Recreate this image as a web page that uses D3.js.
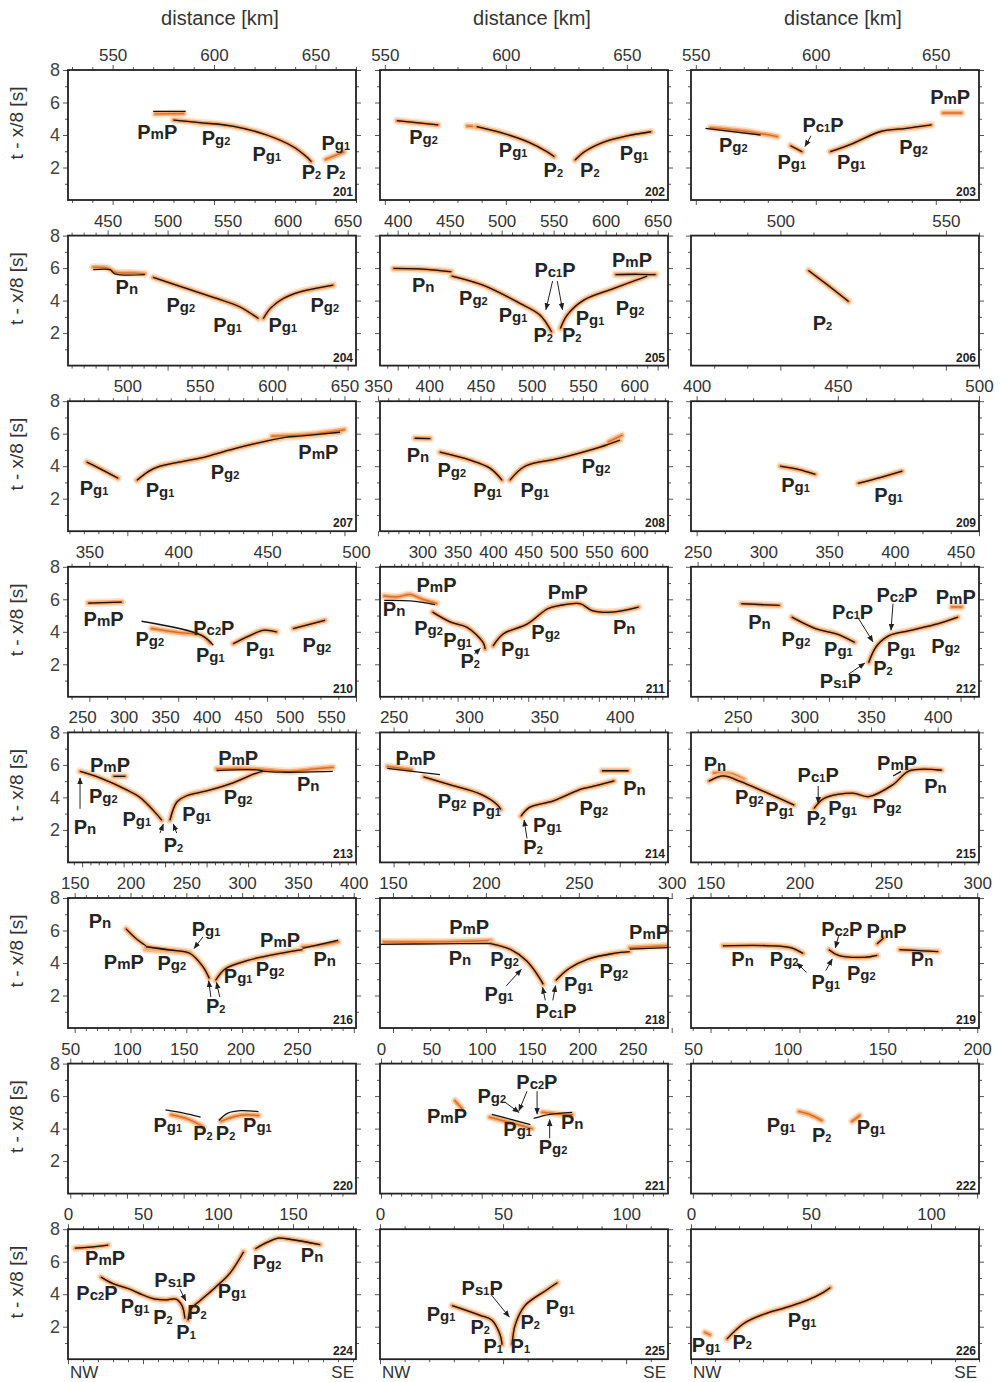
<!DOCTYPE html>
<html><head><meta charset="utf-8">
<script src="https://cdn.jsdelivr.net/npm/d3@7"></script>
<style>body{margin:0;background:#fff}svg{display:block}</style>
</head><body><svg id="c" width="1000" height="1382"></svg>
<script>
// ---------- panel meta ----------
const panelIds = ["201","202","203","204","205","206","207","208","209","210","211","212","213","214","215","216","218","219","220","221","222","224","225","226"];
const xDomains = [[528,670],[548,667],[548,668],[417,657],[383,660],[473,560],[459,658],[352,633],[398,500],[338,500],[240,648],[245,464],[233,580],[241,432],[215,431],[144,402],[143,298],[139,301],[48,302],[-1,285],[49,201],[0,192],[0,117],[0,120]];
const xTickLabels = [[550,600,650],[550,600,650],[550,600,650],[450,500,550,600,650],[400,450,500,550,600,650],[500,550],[500,550,600,650],[350,400,450,500,550,600],[400,450,500],[350,400,450,500],[300,350,400,450,500,550,600],[250,300,350,400,450],[250,300,350,400,450,500,550],[250,300,350,400],[250,300,350,400],[150,200,250,300,350,400],[150,200,250,300],[150,200,250,300],[50,100,150,200,250],[0,50,100,150,200,250],[50,100,150,200],[0,50,100,150],[0,50,100],[0,50,100]];
const yTickLabels = [2,4,6,8];

// ---------- travel-time picks (o = picks, k = model, b = both) ----------
const seg201 = [["k",[[570,5.45],[586,5.45]]],["o",[[571,5.3],[585,5.33]]],["b",[[580,4.92],[593,4.76],[609,4.55],[626,4.0],[639,3.28],[645.5,2.67],[648,2.36]]],["o",[[655,2.5],[664,2.95]]]];
const seg202 = [["b",[[555,4.88],[572,4.62]]],["o",[[584,4.55],[588,4.51]]],["b",[[588,4.51],[599,4.1],[610,3.52],[617,2.97],[620,2.67]]],["b",[[628.6,2.46],[632.5,2.97],[641,3.59],[650,3.94],[660,4.2]]]];
const seg203 = [["k",[[554,4.41],[577,4.0]]],["o",[[556,4.45],[570,4.25],[584,3.9]]],["b",[[589.5,3.34],[594.3,2.97]]],["b",[[606,2.97],[615.6,3.49],[626.7,4.2],[637.8,4.41],[648.2,4.62]]],["o",[[653,5.35],[660.7,5.35]]]];
const seg204 = [["k",[[438,5.9],[452,5.9],[456,5.65],[481,5.6]]],["o",[[438,6.05],[450,6.0],[456,5.75],[470,5.7],[481,5.65]]],["b",[[488,5.43],[513,4.81],[541,4.13],[560,3.62],[575.6,2.9]]],["b",[[579.8,2.9],[586,3.55],[596.4,4.13],[610.5,4.54],[638,4.95]]]];
const seg205 = [["b",[[396,5.98],[420,5.95],[440,5.85],[451.6,5.77]]],["b",[[452,5.51],[482,4.95],[517.6,3.83],[536.8,3.11],[548,2.08]]],["b",[[556.6,2.29],[563,3.11],[579,4.03],[608,4.75],[640,5.51]]],["b",[[609.5,5.6],[630,5.62],[648,5.6]]]];
const seg206 = [["b",[[508.5,5.85],[514,5.0],[520.6,3.95]]]];
const seg207 = [["b",[[472,4.25],[480,3.9],[493.6,3.26]]],["b",[[506.7,3.14],[515,3.7],[522.6,4.0],[550,4.49],[578,5.17],[609,5.78],[619,5.85],[647,6.09]]],["o",[[600,5.85],[625,5.95],[650,6.25]]]];
const seg208 = [["b",[[386,5.72],[401,5.7]]],["b",[[410.5,4.86],[440,4.37],[459.3,3.88],[471,3.14]]],["b",[[478.8,3.14],[493.5,4.0],[527.6,4.49],[566.6,5.17],[586,5.6]]],["o",[[575,5.5],[588,5.9]]]];
const seg209 = [["b",[[429.6,4.0],[436,3.8],[442,3.5]]],["b",[[457.2,2.95],[465,3.3],[472.8,3.69]]]];
const seg210 = [["b",[[349.4,5.77],[368.2,5.83]]],["k",[[379.4,4.65],[413.2,3.78],[419.7,3.17]]],["o",[[385,4.2],[400,3.95],[413,3.78],[418,3.3]]],["b",[[431,3.27],[440,3.75],[447.9,4.09],[455.4,3.99]]],["b",[[464.7,4.2],[482.5,4.71]]]];
const seg211 = [["k",[[246,5.93],[283,5.9],[318,5.67]]],["o",[[246,6.2],[265,6.15],[283,6.3],[300,6.0],[320,5.75]]],["b",[[314.5,5.21],[340.3,4.59],[363.1,4.28],[386,3.35],[388.9,2.94]]],["b",[[400.3,3.14],[414.6,3.87],[448.9,4.49],[477.5,5.42],[494.7,5.62],[523.3,5.73],[540.4,5.31],[569,5.21],[606.3,5.52]]]];
const seg212 = [["b",[[283.3,5.73],[312.4,5.62]]],["b",[[321.7,4.9],[340.2,4.18],[355.6,3.87],[369.4,3.35]]],["b",[[380.1,2.11],[386.3,3.14],[395.6,3.76],[410.9,4.07],[432.5,4.49],[447.9,4.9]]],["o",[[443.2,5.52],[450.9,5.52]]]];
const seg213 = [["b",[[247.5,5.6],[271.6,5.2],[303.7,4.46],[319.7,4.0],[335.8,3.2],[345.9,2.6]]],["b",[[288,5.3],[302,5.3]]],["b",[[355.9,2.6],[364,3.7],[376,4.1],[400,4.4],[432,4.9],[460,5.5],[468,5.6]]],["o",[[412,5.75],[440,5.78],[470,5.7],[500,5.6],[530,5.75],[552,5.85]]],["k",[[412,5.65],[460,5.7],[470,5.6],[490,5.55],[552,5.6]]]];
const seg214 = [["o",[[245.8,5.9],[262,5.7]]],["k",[[245.8,5.79],[280.8,5.4]]],["b",[[270,5.26],[288.8,4.74],[307.6,4.2],[318.4,3.58],[321.1,3.26]]],["b",[[334.5,2.84],[339.9,3.37],[356,3.79],[374.8,4.53],[380.2,4.63],[396.3,5.01]]],["b",[[388.3,5.64],[405.7,5.64]]]];
const seg215 = [["o",[[232,5.5],[245,5.45],[255,5.1]]],["b",[[228.5,5.0],[239.2,5.32],[251.3,5.0],[269.5,4.37],[292.3,3.53]]],["b",[[307.3,3.32],[315,3.95],[336.2,4.26],[348.4,4.05],[366.6,4.79],[378.7,5.63],[403,5.67]]],["k",[[366.6,5.32],[372.6,5.6]]]];
const seg216 = [["b",[[196,6.1],[205,5.5],[214,5.05]]],["o",[[213,4.85],[230,4.75],[253,4.65]]],["b",[[214,5.0],[235,4.8],[253,4.6],[265,3.76],[270.5,3.06]]],["b",[[276.3,2.94],[285,3.65],[305,4.16],[334,4.59],[354,4.82]]],["o",[[354,5.0],[370,5.1],[386,5.3]]],["k",[[354,4.9],[386,5.4]]]];
const seg218 = [["o",[[145,5.3],[175,5.3],[203,5.38]]],["k",[[143,5.15],[175,5.18],[203,5.2]]],["b",[[203,5.18],[213.5,4.82],[222,4.12],[229,3.06],[230.8,2.7]]],["b",[[237.7,2.94],[244.6,3.65],[255,4.24],[268.8,4.59],[277.4,4.7]]],["o",[[277.4,4.94],[298,5.06]]],["k",[[277.4,4.85],[298,4.95]]]];
const seg219 = [["b",[[157,5.06],[184,5.06],[195,4.94],[202,4.59]]],["b",[[216.6,4.82],[222,4.47],[236.5,4.35],[243.7,4.47]]],["b",[[243.7,5.18],[247.3,5.53]]],["b",[[256.3,4.82],[278,4.7]]]];
const seg220 = [["k",[[134,5.15],[150,4.95],[165,4.7]]],["o",[[139,4.85],[155,4.55],[167,4.1]]],["k",[[181,4.5],[189,4.95],[200,5.1],[216,5.05]]],["o",[[183,4.45],[195,4.75],[205,4.85],[216,4.8]]]];
const seg221 = [["o",[[73.5,5.72],[80.4,5.23]]],["k",[[110,4.88],[130,4.55],[148.4,4.25]]],["o",[[108,4.7],[130,4.35],[150,4.0]]],["k",[[151.6,4.63],[167.5,4.88],[189.8,5.0]]],["o",[[160,5.0],[175,4.9],[190,4.85]]]];
const seg222 = [["o",[[106,5.05],[112,4.85],[118,4.5]]],["o",[[134,4.45],[138,4.8]]]];
const seg224 = [["b",[[4.7,6.83],[15,6.9],[26.7,7.02]]],["b",[[22,5.05],[30,4.65],[40,4.35],[50,3.95],[58,3.7],[65,3.65],[72,3.7],[76,3.3],[78,2.5]]],["b",[[80,2.4],[82,3.1],[88,3.6],[98,4.4],[108,5.3],[117,6.6]]],["b",[[125,6.8],[133,7.2],[140,7.45],[150,7.35],[168,7.05]]]];
const seg225 = [["b",[[29.3,3.3],[40.7,2.7],[45.5,2.4],[48.8,1.5],[49.6,0.9]]],["b",[[53.7,0.9],[54.9,2.1],[58.9,3.3],[67.1,4.2],[72,4.7]]]];
const seg226 = [["o",[[5.8,1.65],[7.9,1.5]]],["b",[[15,1.25],[22,2.2],[30,2.75],[40,3.2],[48,3.6],[55,4.1],[58,4.4]]]];

// ---------- phase labels [text, distance, time] ----------
const lab201 = [["PmP",572,4.2],["Pg2",601,3.8],["Pg1",626,2.85],["P2",648,1.75],["P2",660,1.75],["Pg1",660,3.5]];
const lab202 = [["Pg2",566,3.86],["Pg1",603,3.08],["P2",619.6,1.85],["P2",634.7,1.85],["Pg1",653,2.87]];
const lab203 = [["Pg2",565.6,3.38],["Pc1P",603,4.62],["Pg1",590,2.36],["Pg1",614.8,2.36],["Pg2",640.7,3.28],["PmP",656,6.36]];
const lab204 = [["Pn",466,4.85],["Pg2",511,3.72],["Pg1",550,2.49],["Pg1",596,2.49],["Pg2",631,3.72]];
const lab205 = [["Pn",424.6,4.95],["Pg2",472.8,4.13],["Pg1",511,3.11],["P2",540,1.88],["P2",567.4,1.88],["Pg1",585,2.9],["Pg2",623.4,3.52],["Pc1P",551.3,5.88],["PmP",625.4,6.49]];
const lab206 = [["P2",512.7,2.6]];
const lab207 = [["Pg1",477,2.65],["Pg1",522.6,2.52],["Pg2",567.5,3.63],["PmP",632,4.86]];
const lab208 = [["Pn",389,4.68],["Pg2",422,3.75],["Pg1",457,2.52],["Pg1",503,2.52],["Pg2",562.7,4.0]];
const lab209 = [["Pg1",435,2.83],["Pg1",468,2.2]];
const lab210 = [["PmP",358,4.81],["Pg2",384,3.58],["Pc2P",420,4.26],["Pg1",418,2.55],["Pg1",446,2.97],["Pg2",478,3.17]];
const lab211 = [["PmP",320,6.9],["Pn",260,5.42],["Pg2",308.8,4.22],["Pg1",350,3.5],["P2",367.8,2.21],["Pg1",431.8,2.94],["Pg2",474.7,3.97],["PmP",506,6.45],["Pn",586,4.28]];
const lab212 = [["Pn",297,4.59],["Pg2",324.8,3.56],["Pg1",357.1,2.94],["Pc1P",367.9,5.21],["Pc2P",401.7,6.24],["Pg1",404.8,2.94],["P2",391,1.8],["Ps1P",358.6,0.98],["Pg2",438.6,3.14],["PmP",446.3,6.14]];
const lab213 = [["PmP",283.6,6.0],["Pg2",275.5,4.1],["Pn",253.5,2.2],["Pg1",315.8,2.7],["P2",360,1.1],["Pg1",388,3.0],["PmP",438,6.4],["Pg2",438,4.0],["Pn",522.5,4.8]];
const lab214 = [["PmP",264.6,6.42],["Pg2",288.8,3.79],["Pg1",311.7,3.26],["Pg1",352,2.32],["P2",342.5,0.95],["Pg2",382.8,3.37],["Pn",409.8,4.59]];
const lab215 = [["Pn",233,6.06],["Pg2",258.8,4.0],["Pg1",281.5,3.26],["P2",308.9,2.74],["Pg1",328.7,3.37],["Pc1P",310.4,5.37],["PmP",369.6,6.12],["Pg2",362,3.47],["Pn",398.4,4.7]];
const lab216 = [["Pn",172.7,6.59],["PmP",194,4.07],["Pg2",237,4.0],["Pg1",267.6,6.12],["P2",276.3,1.34],["Pg1",296.4,3.18],["Pg2",325,3.65],["PmP",334,5.41],["Pn",374,4.24]];
const lab218 = [["PmP",191,6.24],["Pn",186,4.3],["Pg2",210,4.24],["Pg1",207,2.12],["Pc1P",237.7,1.06],["Pg1",249.8,2.7],["Pg2",268.8,3.53],["PmP",287.8,5.88]];
const lab219 = [["Pn",168,4.24],["Pg2",191.4,4.24],["Pg1",214.8,2.82],["Pc2P",223.8,6.12],["PmP",249,6.0],["Pg2",234.8,3.41],["Pn",269,4.24]];
const lab220 = [["Pg1",136,4.25],["P2",167,3.75],["P2",187,3.75],["Pg1",215,4.25]];
const lab221 = [["PmP",65.5,4.75],["Pg2",110,6.0],["Pc2P",154.8,6.88],["Pg1",135.7,4.0],["Pn",189.8,4.38],["Pg2",170.8,2.88]];
const lab222 = [["Pg1",96.5,4.25],["P2",118,3.63],["Pg1",144,4.08]];
const lab224 = [["PmP",24.7,6.2],["Pc2P",19.3,4.06],["Pg1",44.7,3.3],["P2",63.3,2.6],["Ps1P",71.3,4.85],["P2",86,2.9],["P1",78.7,1.7],["Pg1",109.3,4.2],["Pg2",132.7,6.0],["Pn",162.7,6.4]];
const lab225 = [["Ps1P",41.5,4.4],["Pg1",24.8,2.8],["P2",40.7,2.0],["P1",46,0.8],["P1",57,0.8],["P2",61,2.3],["Pg1",73.2,3.2]];
const lab226 = [["Pg1",6.3,0.85],["P2",21.3,1.05],["Pg1",46.3,2.4]];

// ---------- arrows [x1,t1,x2,t2] ----------
const arr203 = [[598,3.95,595.5,3.3]];
const arr205 = [[549,5.2,542.6,3.45],[553.5,5.2,558.5,3.45]];
const arr211 = [[373.6,2.63,382,2.98]];
const arr212 = [[372.5,4.8,383.3,3.4],[398.6,5.73,397.1,4.1],[364.8,1.39,377.1,2.07]];
const arr213 = [[247.5,3.3,247.5,5.2],[343.8,1.8,347.8,2.35],[364,1.8,359.9,2.35]];
const arr214 = [[338.5,1.47,336.6,2.6]];
const arr215 = [[310.4,4.7,310.4,3.65]];
const arr216 = [[264.8,5.6,257,4.9],[272,1.9,270,2.9],[280,1.9,277,2.8]];
const arr218 = [[211,2.6,219,3.6],[232,1.7,230.5,2.5],[236,1.7,237.5,2.6]];
const arr219 = [[204,3.41,198.6,4.0],[214.8,3.53,218.4,4.24],[222,5.65,220.2,4.94]];
const arr221 = [[123,5.63,137,5.0],[145,6.3,137,5.1],[155,6.3,155,4.9],[167.5,3.4,167.5,4.55]];
const arr224 = [[74.7,4.3,78.5,3.6]];
const arr225 = [[45,4.0,52.5,2.6]];

const segs = [seg201,seg202,seg203,seg204,seg205,seg206,seg207,seg208,seg209,seg210,seg211,seg212,seg213,seg214,seg215,seg216,seg218,seg219,seg220,seg221,seg222,seg224,seg225,seg226];
const labs = [lab201,lab202,lab203,lab204,lab205,lab206,lab207,lab208,lab209,lab210,lab211,lab212,lab213,lab214,lab215,lab216,lab218,lab219,lab220,lab221,lab222,lab224,lab225,lab226];
const arrsById = {"203":arr203,"205":arr205,"211":arr211,"212":arr212,"213":arr213,"214":arr214,"215":arr215,"216":arr216,"218":arr218,"219":arr219,"221":arr221,"224":arr224,"225":arr225};

// ---------- layout ----------
const COLX = [68,380,691], W = 288, H = 130, ROW0 = 70, ROWSTEP = 165.6;
const FONT = "Arial, 'Liberation Sans', Helvetica, sans-serif";
const svg = d3.select("#c");
const defs = svg.append("defs");
defs.append("marker").attr("id","ah").attr("viewBox","0 0 10 10").attr("refX",9).attr("refY",5)
  .attr("markerWidth",7).attr("markerHeight",7).attr("orient","auto")
  .append("path").attr("d","M0,1L10,5L0,9z").attr("fill","#222");

COLX.forEach(cx => {
  svg.append("text").attr("x", cx + W/2 + 8).attr("y", 25).attr("text-anchor","middle")
    .attr("font-family",FONT).attr("font-size",20).attr("fill","#333").text("distance [km]");
});

function addLabel(g, str, px, py){
  const t = g.append("text").attr("x",px).attr("y",py+7).attr("text-anchor","middle")
    .attr("font-family",FONT).attr("font-weight","bold").attr("fill","#242424");
  for (const ch of str){
    let fs = 20;
    if (/[a-z]/.test(ch)) fs = 15;
    else if (/[0-9]/.test(ch)) fs = 11;
    t.append("tspan").attr("font-size",fs).text(ch);
  }
}

panelIds.forEach((id,i) => {
  const r = Math.floor(i/3), c = i % 3;
  const x0 = COLX[c], y0 = ROW0 + r*ROWSTEP;
  const x = d3.scaleLinear().domain(xDomains[i]).range([x0, x0+W]);
  const y = d3.scaleLinear().domain([0,8]).range([y0+H, y0]);
  const g = svg.append("g");
  const [d0,d1] = xDomains[i];
  const minorX = d3.range(Math.ceil(d0/10)*10, d1+0.01, 10).filter(v => v%50 !== 0);

  const styleAxis = a => { a.select(".domain").remove(); a.selectAll("line").attr("stroke","#555").attr("stroke-width",1); };
  g.append("g").attr("transform",`translate(0,${y0})`)
    .call(d3.axisTop(x).tickValues(xTickLabels[i]).tickSize(5).tickPadding(4).tickFormat(d3.format("d")))
    .call(styleAxis)
    .call(a => a.selectAll("text").attr("font-family",FONT).attr("font-size",17).attr("fill","#333"));
  g.append("g").attr("transform",`translate(0,${y0})`).call(d3.axisTop(x).tickValues(minorX).tickSize(3).tickFormat("")).call(styleAxis);
  g.append("g").attr("transform",`translate(0,${y0+H})`).call(d3.axisBottom(x).tickValues(xTickLabels[i]).tickSize(5).tickFormat("")).call(styleAxis);
  g.append("g").attr("transform",`translate(0,${y0+H})`).call(d3.axisBottom(x).tickValues(minorX).tickSize(3).tickFormat("")).call(styleAxis);
  const la = g.append("g").attr("transform",`translate(${x0},0)`)
    .call(d3.axisLeft(y).tickValues(yTickLabels).tickSize(5).tickPadding(3).tickFormat(c===0 ? d3.format("d") : ""))
    .call(styleAxis);
  la.selectAll("text").attr("font-family",FONT).attr("font-size",18).attr("fill","#444");
  g.append("g").attr("transform",`translate(${x0},0)`).call(d3.axisLeft(y).tickValues([1,3,5,7]).tickSize(3).tickFormat("")).call(styleAxis);
  g.append("g").attr("transform",`translate(${x0+W},0)`).call(d3.axisRight(y).tickValues(yTickLabels).tickSize(5).tickFormat("")).call(styleAxis);
  g.append("g").attr("transform",`translate(${x0+W},0)`).call(d3.axisRight(y).tickValues([1,3,5,7]).tickSize(3).tickFormat("")).call(styleAxis);

  defs.append("clipPath").attr("id","cp"+id).append("rect").attr("x",x0).attr("y",y0).attr("width",W).attr("height",H);
  const pg = g.append("g").attr("clip-path",`url(#cp${id})`);
  const line = d3.line().x(d=>x(d[0])).y(d=>y(d[1])).curve(d3.curveCatmullRom.alpha(0.5));
  segs[i].forEach(([k,pts]) => {
    if (k==="o" || k==="b"){
      pg.append("path").attr("d",line(pts)).attr("fill","none").attr("stroke","#fbd2ae").attr("stroke-width",8)
        .attr("stroke-linecap","round").attr("stroke-opacity",0.6);
      pg.append("path").attr("d",line(pts)).attr("fill","none").attr("stroke","#f3a365").attr("stroke-width",4.5)
        .attr("stroke-linecap","round").attr("stroke-opacity",0.85);
      pg.append("path").attr("d",line(pts)).attr("fill","none").attr("stroke","#dc6f26").attr("stroke-width",1.5)
        .attr("stroke-linecap","round");
    }
  });
  segs[i].forEach(([k,pts]) => {
    if (k==="k" || k==="b"){
      pg.append("path").attr("d",line(pts)).attr("fill","none").attr("stroke","#141414").attr("stroke-width",1.3);
    }
  });

  g.append("rect").attr("x",x0).attr("y",y0).attr("width",W).attr("height",H)
    .attr("fill","none").attr("stroke","#222").attr("stroke-width",1.8);

  (arrsById[id]||[]).forEach(a => {
    g.append("line").attr("x1",x(a[0])).attr("y1",y(a[1])).attr("x2",x(a[2])).attr("y2",y(a[3]))
      .attr("stroke","#222").attr("stroke-width",1).attr("marker-end","url(#ah)");
  });
  labs[i].forEach(l => addLabel(g, l[0], x(l[1]), y(l[2])));

  g.append("text").attr("x",x0+W-3).attr("y",y0+H-4).attr("text-anchor","end")
    .attr("font-family",FONT).attr("font-weight","bold").attr("font-size",12).attr("fill","#222").text(id);

  if (c===0){
    svg.append("text").attr("transform",`translate(23,${y0+H/2-12}) rotate(-90)`).attr("text-anchor","middle")
      .attr("font-family",FONT).attr("font-size",19).attr("fill","#333").text("t - x/8 [s]");
  }
  if (r===7){
    svg.append("text").attr("x",x0+2).attr("y",y0+H+19).attr("font-family",FONT).attr("font-size",17).attr("fill","#333").text("NW");
    svg.append("text").attr("x",x0+W-2).attr("y",y0+H+19).attr("text-anchor","end").attr("font-family",FONT).attr("font-size",17).attr("fill","#333").text("SE");
  }
});
</script></body></html>
